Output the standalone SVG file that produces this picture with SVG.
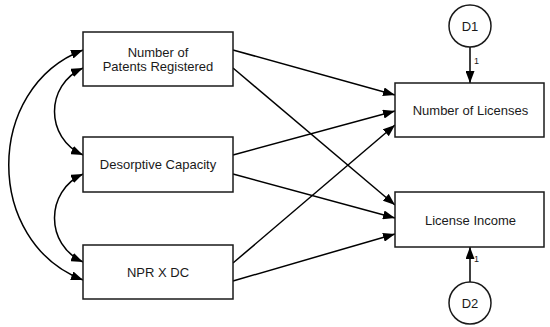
<svg xmlns="http://www.w3.org/2000/svg" width="550" height="327" viewBox="0 0 550 327">
<style>
.box{fill:#fff;stroke:#1a1a1a;stroke-width:1.5}
.c{fill:#fff;stroke:#1a1a1a;stroke-width:1.5}
.t{font-family:"Liberation Sans",Arial,sans-serif;font-size:13px;fill:#1a1a1a;text-anchor:middle}
.s{font-family:"Liberation Sans",Arial,sans-serif;font-size:9px;fill:#1a1a1a}
.e{fill:none;stroke:#000;stroke-width:1.5}
</style>
<defs>
<marker id="ah" markerWidth="12" markerHeight="9" refX="12" refY="4.5" orient="auto" markerUnits="userSpaceOnUse">
<path d="M0,0 L12,4.5 L0,9 Z" fill="#000"/>
</marker>
<marker id="as" markerWidth="12" markerHeight="9" refX="0" refY="4.5" orient="auto" markerUnits="userSpaceOnUse">
<path d="M12,0 L0,4.5 L12,9 Z" fill="#000"/>
</marker>
</defs>
<g id="connectors">
<path class="e" d="M233,50 L395,95" marker-end="url(#ah)"/>
<path class="e" d="M233,68 L395,205" marker-end="url(#ah)"/>
<path class="e" d="M233,155 L395,111" marker-end="url(#ah)"/>
<path class="e" d="M233,174 L395,218" marker-end="url(#ah)"/>
<path class="e" d="M233,263 L395,125" marker-end="url(#ah)"/>
<path class="e" d="M233,281 L395,234" marker-end="url(#ah)"/>
<path class="e" d="M470,47 L470,83" marker-end="url(#ah)"/>
<path class="e" d="M470,282 L470,247" marker-end="url(#ah)"/>
<path class="e" d="M83,68 C45,85 45,138 83,155" marker-start="url(#as)" marker-end="url(#ah)"/>
<path class="e" d="M83,174 C45,191 45,245 83,262" marker-start="url(#as)" marker-end="url(#ah)"/>
<path class="e" d="M83,50 C-16,88 -16,242 83,280" marker-start="url(#as)" marker-end="url(#ah)"/>
<text class="s" x="474" y="64">1</text>
<text class="s" x="474" y="262">1</text>
</g>
<g id="npr">
<rect class="box" x="83" y="32" width="150" height="54"/>
<text class="t" x="158" y="56.5">Number of</text>
<text class="t" x="158" y="71">Patents Registered</text>
</g>
<g id="dc">
<rect class="box" x="83" y="137" width="150" height="55"/>
<text class="t" x="158" y="169">Desorptive Capacity</text>
</g>
<g id="nprxdc">
<rect class="box" x="83" y="245" width="150" height="54"/>
<text class="t" x="158" y="276.5">NPR X DC</text>
</g>
<g id="licenses">
<rect class="box" x="395" y="83" width="149" height="54"/>
<text class="t" x="470.5" y="114.5">Number of Licenses</text>
</g>
<g id="income">
<rect class="box" x="395" y="192" width="149" height="55"/>
<text class="t" x="470.5" y="224.5">License Income</text>
</g>
<g id="d1">
<circle class="c" cx="470" cy="26" r="21"/>
<text class="t" x="470" y="30.5">D1</text>
</g>
<g id="d2">
<circle class="c" cx="470" cy="303" r="21"/>
<text class="t" x="470" y="307.5">D2</text>
</g>
</svg>
